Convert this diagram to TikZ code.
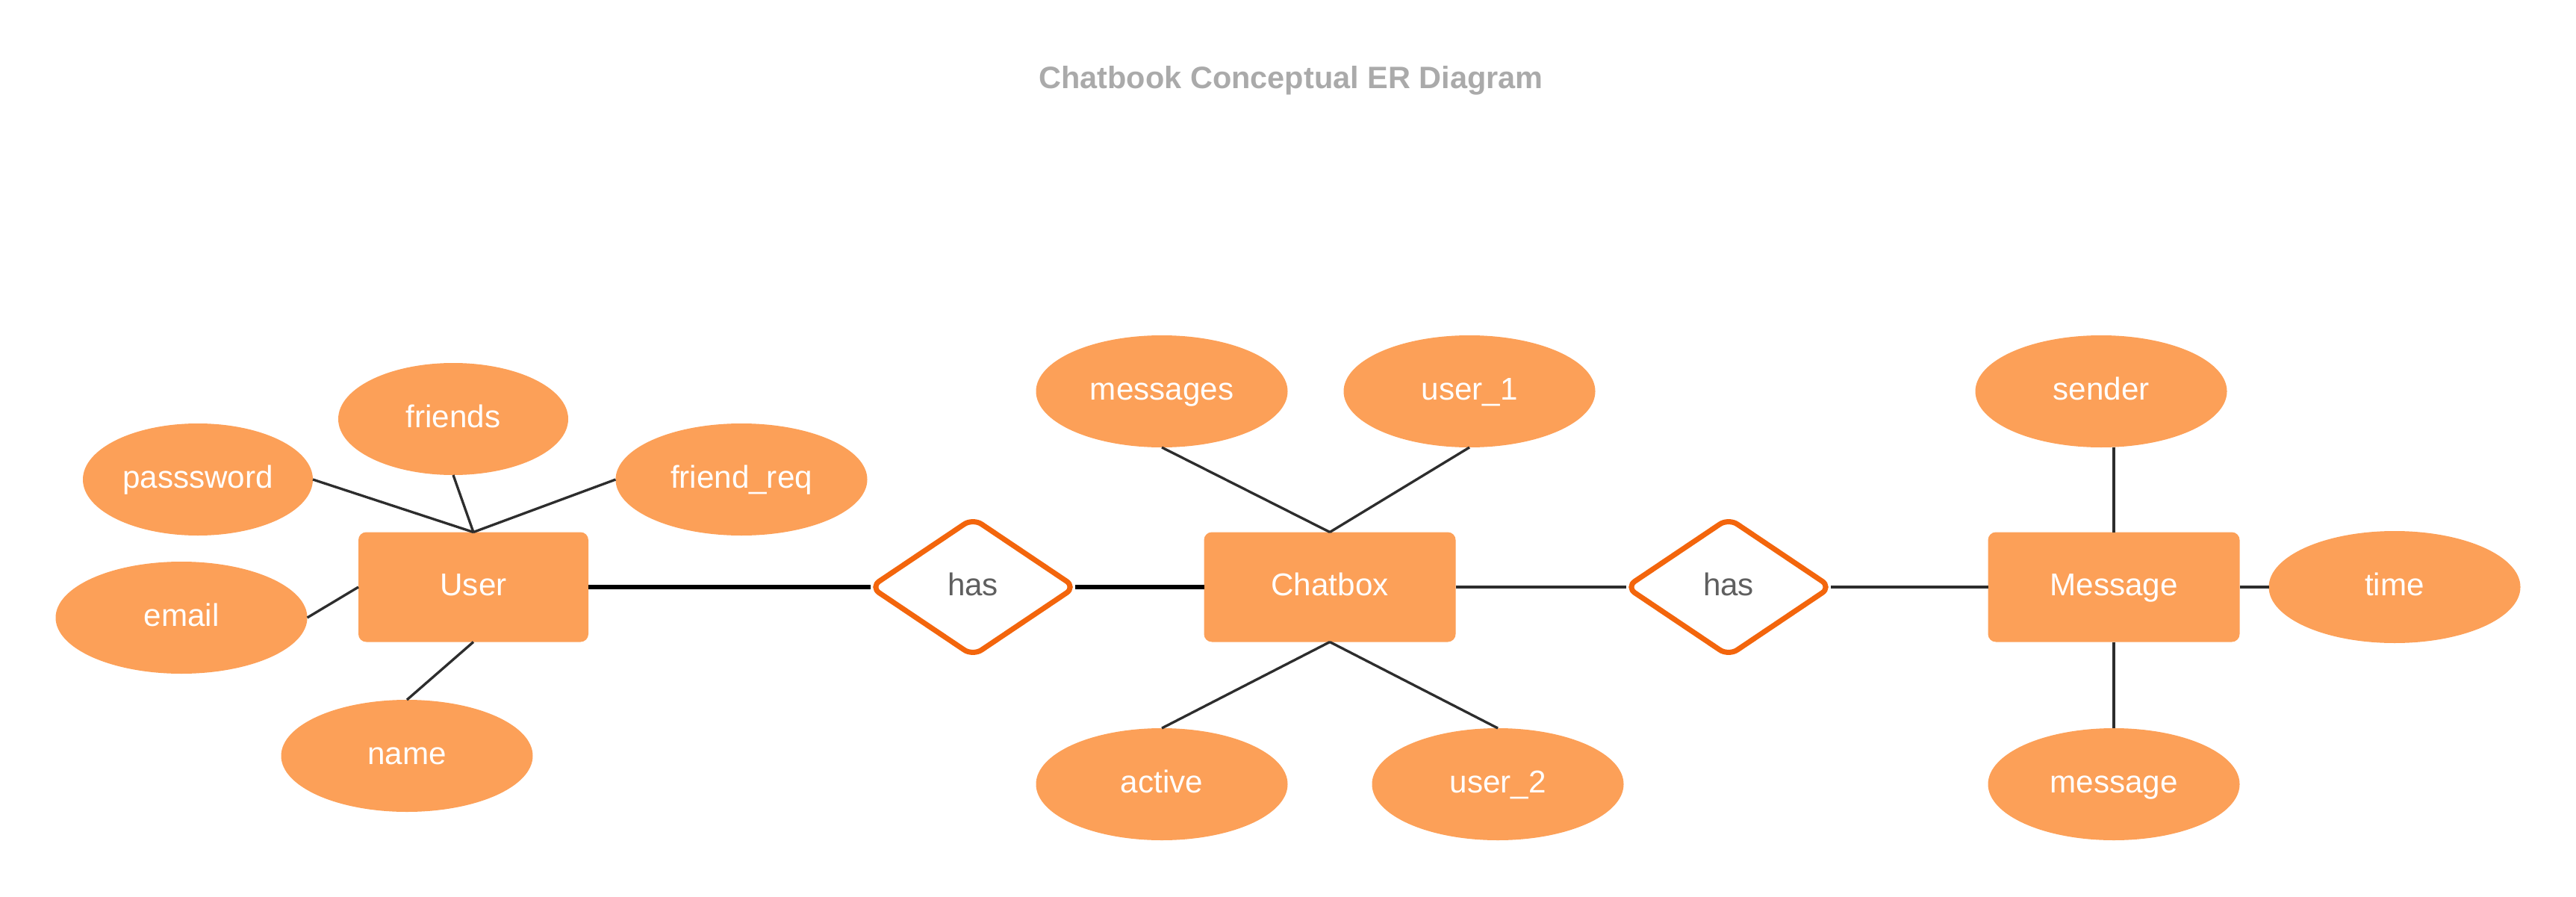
\documentclass[tikz,border=0pt]{standalone}
\usepackage{fontspec}
\setmainfont{Liberation Sans}
\usepackage{tikz}
\usetikzlibrary{shapes.geometric}
\usetikzlibrary{positioning}
\definecolor{erorange}{RGB}{252,160,88}
\definecolor{relorange}{RGB}{243,101,12}
\definecolor{titlegray}{RGB}{170,170,170}
\definecolor{hasgray}{RGB}{95,95,95}
\definecolor{linegray}{RGB}{45,45,45}

\begin{document}
\begin{tikzpicture}[
          entity/.style={rectangle, rounded corners=3pt, fill=erorange, text=white, minimum width=3.37cm, minimum height=1.47cm, inner sep=0pt, outer sep=0pt, text height=9pt, text depth=2.5pt, font=\fontsize{12}{14}\selectfont},
          attrib/.style={ellipse, fill=erorange, text=white, minimum width=3.37cm, minimum height=1.5cm, inner sep=0pt, outer sep=0pt, text height=9pt, text depth=2.5pt, font=\fontsize{12}{14}\selectfont},
          relation/.style={diamond, draw=relorange, line width=2pt, rounded corners=4pt, fill=white, text=hasgray, minimum width=2.74cm, minimum height=1.84cm, inner sep=0pt, outer sep=0pt, text height=9pt, text depth=2.5pt, font=\fontsize{12}{14}\selectfont},
          attline/.style={draw=linegray, line width=0.95pt},
          relline/.style={draw=black, line width=1.5pt}]
          \useasboundingbox (0,0) rectangle (34.5,12);
          \node[font=\fontsize{11.8}{14}\selectfont\bfseries, text=titlegray] (title) at (17.29,10.92){Chatbook Conceptual ER Diagram};
          \node[entity, minimum width=3.08cm] (User) at (6.34,4.14){User};
          \node[relation] (has1) at (13.03,4.14){has};
          \node[entity] (Chatbox) at (17.81,4.14){Chatbox};
          \node[relation] (has2) at (23.15,4.14){has};
          \node[entity] (Message) at (28.31,4.14){Message};
          \node[attrib, minimum width=3.08cm] (passsword) at (2.65,5.58){passsword};
          \node[attrib, minimum width=3.08cm] (friends) at (6.07,6.39){friends};
          \node[attrib] (friendreq) at (9.93,5.58){friend\_req};
          \node[attrib] (email) at (2.43,3.73){email};
          \node[attrib] (name) at (5.45,1.88){name};
          \node[attrib] (messages) at (15.56,6.76){messages};
          \node[attrib] (user1) at (19.68,6.76){user\_1};
          \node[attrib] (active) at (15.56,1.50){active};
          \node[attrib] (user2) at (20.06,1.50){user\_2};
          \node[attrib] (sender) at (28.14,6.76){sender};
          \node[attrib] (message) at (28.31,1.50){message};
          \node[attrib] (time) at (32.07,4.14){time};
          \draw[attline](User.north) -- (passsword.east);
          \draw[attline](User.north) -- (friends.south);
          \draw[attline](User.north) -- (friendreq.west);
          \draw[attline](User.west) -- (email.east);
          \draw[attline](User.south) -- (name.north);
          \draw[relline](User.east) -- (has1.west);
          \draw[relline](has1.east) -- (Chatbox.west);
          \draw[attline](Chatbox.north) -- (messages.south);
          \draw[attline](Chatbox.north) -- (user1.south);
          \draw[attline](Chatbox.south) -- (active.north);
          \draw[attline](Chatbox.south) -- (user2.north);
          \draw[attline, line width=1.3pt](Chatbox.east) -- (has2.west);
          \draw[attline, line width=1.3pt](has2.east) -- (Message.west);
          \draw[attline](Message.north) -- (Message.north |- sender.south);
          \draw[attline](Message.south) -- (message.north);
          \draw[attline](Message.east) -- (time.west);
        \end{tikzpicture}
\end{document}
